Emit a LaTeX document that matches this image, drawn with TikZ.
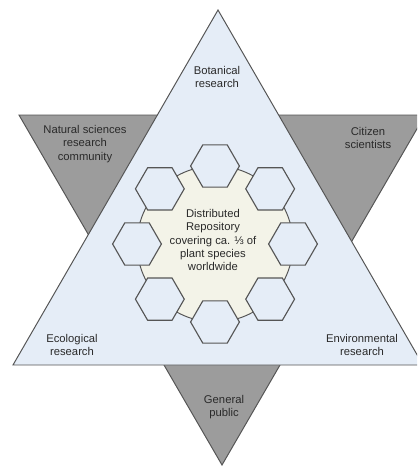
\documentclass[tikz,border=0pt]{standalone}
\usepackage{fontspec}
\setmainfont{Liberation Sans}
\definecolor{hellblau}{HTML}{E5EDF7}
\definecolor{dunkelgrau}{HTML}{9C9C9C}
\definecolor{randgrau}{HTML}{555555}
\definecolor{creme}{HTML}{F3F3E8}
\definecolor{schrift}{HTML}{2A2A2A}
\usetikzlibrary{shapes.geometric}

\begin{document}
\begin{tikzpicture}[x=0.025cm, y=-0.025cm,
    dunkel/.style={fill=dunkelgrau, draw=randgrau, line width=0.7pt},
    hell/.style={fill=hellblau, draw=randgrau, line width=0.7pt},
    kreis/.style={fill=creme, draw=randgrau, line width=0.7pt},
    wabe/.style={regular polygon, regular polygon sides=6, minimum size=1.22cm,
        inner sep=0pt, fill=hellblau, draw=randgrau, line width=0.8pt},
    txt/.style={align=center, font=\footnotesize, text=schrift, inner sep=1pt}]
    \useasboundingbox (0,0) rectangle (417,466);
    \clip (0,0) rectangle (417,466);

    % Dreieck nach unten (grau)
    \draw[dunkel] (19,115) -- (425,115) -- (222,465) -- cycle;
    % Dreieck nach oben (hellblau)
    \draw[hell] (218,10) -- (423,365) -- (13,365) -- cycle;

    % Repositorium in der Mitte
    \coordinate (mitte) at (215,244);
    \draw[kreis] (mitte) circle (78);
    \foreach \w [count=\i] in {-90,-45,0,45,90,135,180,225}
        \node[wabe] (wabe\i) at ([shift={(\w:78)}]mitte) {};
    \node[txt] (repo) at (213,240) {Distributed\\Repository\\covering ca. ⅓ of\\plant species\\worldwide};

    % Beschriftungen
    \node[txt] (bot) at (217,77) {Botanical\\research};
    \node[txt] (nat) at (85,144) {Natural sciences\\research\\community};
    \node[txt] (cit) at (368,138) {Citizen\\scientists};
    \node[txt] (eco) at (72,345) {Ecological\\research};
    \node[txt] (env) at (362,345) {Environmental\\research};
    \node[txt] (gen) at (224,407) {General\\public};
\end{tikzpicture}
\end{document}
